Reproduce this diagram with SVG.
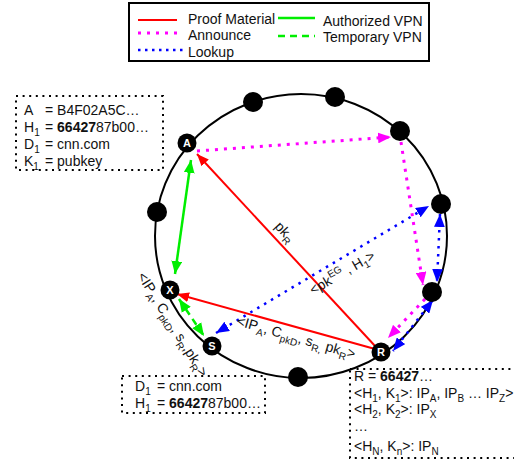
<svg xmlns="http://www.w3.org/2000/svg" width="514" height="464" viewBox="0 0 514 464">
  <style>
    text { font-family: "Liberation Sans", Arial, sans-serif; font-size: 14px; fill: #111; }
    .lbl { font-family: "Liberation Sans", Arial, sans-serif; font-size: 11px; font-weight: bold; fill: #fff; text-anchor: middle; }
    .sub { font-size: 10px; }
    .b { font-weight: bold; }
    .box { fill: none; stroke: #000; stroke-width: 2; stroke-dasharray: 2 4.6; }
    .ring { fill: none; stroke: #000; stroke-width: 2; }
    .node { fill: #000; }
    .proof { stroke: #ff0000; stroke-width: 2; fill: none; }
    .announce { stroke: #ff00ff; stroke-width: 3; stroke-dasharray: 3 6; fill: none; }
    .lookup { stroke: #0000ff; stroke-width: 2.5; stroke-dasharray: 2.5 5.5; fill: none; }
    .auth { stroke: #00ee00; stroke-width: 2.5; fill: none; }
    .temp { stroke: #00ee00; stroke-width: 2.5; stroke-dasharray: 7 5; fill: none; }
  </style>
  <defs>
    <marker id="ah-red" viewBox="0 0 12 10" refX="12" refY="5" markerWidth="12" markerHeight="10" markerUnits="userSpaceOnUse" orient="auto-start-reverse">
      <path d="M0,0 L12,5 L0,10 z" fill="#ff0000"/>
    </marker>
    <marker id="ah-mag" viewBox="0 0 12 10" refX="12" refY="5" markerWidth="13" markerHeight="11" markerUnits="userSpaceOnUse" orient="auto-start-reverse">
      <path d="M0,0 L12,5 L0,10 z" fill="#ff00ff"/>
    </marker>
    <marker id="ah-blue" viewBox="0 0 12 10" refX="12" refY="5" markerWidth="13" markerHeight="11" markerUnits="userSpaceOnUse" orient="auto-start-reverse">
      <path d="M0,0 L12,5 L0,10 z" fill="#0000ff"/>
    </marker>
    <marker id="ah-green" viewBox="0 0 12 10" refX="12" refY="5" markerWidth="13" markerHeight="11" markerUnits="userSpaceOnUse" orient="auto-start-reverse">
      <path d="M0,0 L12,5 L0,10 z" fill="#00ee00"/>
    </marker>
  </defs>

  <rect width="514" height="464" fill="#fff"/>

  <!-- legend -->
  <g id="legend">
    <rect x="129" y="3" width="300" height="58" fill="none" stroke="#000" stroke-width="2"/>
    <line x1="138" y1="20" x2="177" y2="20" class="proof"/>
    <text x="188" y="24">Proof Material</text>
    <line x1="138" y1="33" x2="180" y2="33" class="announce"/>
    <text x="188" y="40">Announce</text>
    <line x1="138" y1="50" x2="185" y2="50" stroke="#0000ff" stroke-width="2.5" stroke-dasharray="2.5 4.5"/>
    <text x="188" y="57">Lookup</text>
    <line x1="278" y1="18" x2="315" y2="18" class="auth"/>
    <text x="323" y="26">Authorized VPN</text>
    <line x1="278" y1="36" x2="315" y2="36" class="temp"/>
    <text x="323" y="42">Temporary VPN</text>
  </g>

  <!-- ring -->
  <ellipse cx="301" cy="236" rx="146" ry="142" class="ring"/>

  <!-- connectors -->
  <g id="connectors">
    <line x1="376" y1="347" x2="197" y2="154" class="proof" marker-end="url(#ah-red)"/>
    <line x1="375" y1="349" x2="177" y2="294" class="proof" marker-end="url(#ah-red)"/>
    <line x1="191" y1="160" x2="175" y2="274" class="auth" marker-start="url(#ah-green)" marker-end="url(#ah-green)"/>
    <line x1="179" y1="299" x2="204" y2="336" class="temp" marker-start="url(#ah-green)" marker-end="url(#ah-green)"/>
    <line x1="216" y1="333" x2="429" y2="206" class="lookup" marker-start="url(#ah-blue)" marker-end="url(#ah-blue)"/>
    <line x1="440" y1="214" x2="437" y2="282" class="lookup" marker-start="url(#ah-blue)" marker-end="url(#ah-blue)"/>
    <line x1="433" y1="300" x2="393" y2="351" class="lookup" marker-start="url(#ah-blue)" marker-end="url(#ah-blue)"/>
    <line x1="197" y1="151" x2="391" y2="137" class="announce" marker-end="url(#ah-mag)"/>
    <line x1="401" y1="142" x2="423" y2="285" class="announce" marker-end="url(#ah-mag)"/>
    <line x1="425" y1="299" x2="388" y2="338" class="announce" marker-end="url(#ah-mag)"/>
  </g>

  <!-- connector labels -->
  <g id="connector-labels">
    <text transform="translate(274,227) rotate(47)">pk<tspan class="sub" dy="4">R</tspan></text>
    <text transform="translate(236,325) rotate(16)" font-size="13.5">&lt;IP<tspan class="sub" dy="4">A</tspan><tspan dy="-4">, C</tspan><tspan class="sub" dy="4">pkD</tspan><tspan dy="-4">, s</tspan><tspan class="sub" dy="4">R,</tspan><tspan dy="-4"> pk</tspan><tspan class="sub" dy="4">R</tspan><tspan dy="-4">&gt;</tspan></text>
    <text transform="translate(137,276) rotate(58)" font-size="13.5">&lt;IP<tspan class="sub" dy="4">A</tspan><tspan dy="-4">, C</tspan><tspan class="sub" dy="4">pkD</tspan><tspan dy="-4">, s</tspan><tspan class="sub" dy="4">R</tspan><tspan dy="-4">,pk</tspan><tspan class="sub" dy="4">R</tspan><tspan dy="-4">&gt;</tspan></text>
    <text transform="translate(313,295) rotate(-30)">&lt;pk<tspan class="sub" dy="-6">EG</tspan><tspan dy="6"> , H</tspan><tspan class="sub" dy="4">1</tspan><tspan dy="-4">&gt;</tspan></text>
  </g>

  <!-- ring nodes -->
  <g id="n1"><circle cx="253" cy="102" r="10" class="node"/></g>
  <g id="n2"><circle cx="335" cy="97" r="10" class="node"/></g>
  <g id="n3"><circle cx="400" cy="131" r="10" class="node"/></g>
  <g id="n4"><circle cx="441" cy="204" r="10" class="node"/></g>
  <g id="n5"><circle cx="432" cy="292" r="10" class="node"/></g>
  <g id="n6"><circle cx="298" cy="377" r="10" class="node"/></g>
  <g id="n7"><circle cx="157" cy="212" r="10" class="node"/></g>
  <g id="node-A"><circle cx="187" cy="143" r="9.5" class="node"/><text x="187" y="147" class="lbl">A</text></g>
  <g id="node-X"><circle cx="170" cy="290" r="9.5" class="node"/><text x="170" y="294" class="lbl">X</text></g>
  <g id="node-S"><circle cx="212" cy="346" r="9.5" class="node"/><text x="212" y="350" class="lbl">S</text></g>
  <g id="node-R"><circle cx="381" cy="352" r="9.5" class="node"/><text x="381" y="356" class="lbl">R</text></g>

  <!-- info boxes -->
  <g id="box-A">
    <rect x="16" y="96" width="147" height="74" class="box"/>
    <text x="24" y="115">A</text><text x="45" y="115">= B4F02A5C…</text>
    <text x="24" y="132">H<tspan class="sub" dy="4">1</tspan></text><text x="45" y="132">= <tspan class="b">66427</tspan>87b00…</text>
    <text x="24" y="149">D<tspan class="sub" dy="4">1</tspan></text><text x="45" y="149">= cnn.com</text>
    <text x="24" y="166">K<tspan class="sub" dy="4">1</tspan></text><text x="45" y="166">= pubkey</text>
  </g>
  <g id="box-S">
    <rect x="122" y="376" width="143" height="37" class="box"/>
    <text x="135" y="391">D<tspan class="sub" dy="4">1</tspan></text><text x="157" y="391">= cnn.com</text>
    <text x="135" y="408">H<tspan class="sub" dy="4">1</tspan></text><text x="157" y="408">= <tspan class="b">66427</tspan>87b00…</text>
  </g>
  <g id="box-R">
    <rect x="350" y="369" width="180" height="89" class="box"/>
    <text x="354" y="381">R = <tspan class="b">66427</tspan>…</text>
    <text x="354" y="398">&lt;H<tspan class="sub" dy="4">1</tspan><tspan dy="-4">, K</tspan><tspan class="sub" dy="4">1</tspan><tspan dy="-4">&gt;: IP</tspan><tspan class="sub" dy="4">A</tspan><tspan dy="-4">, IP</tspan><tspan class="sub" dy="4">B</tspan><tspan dy="-4"> … IP</tspan><tspan class="sub" dy="4">Z</tspan><tspan dy="-4">&gt;</tspan></text>
    <text x="354" y="414">&lt;H<tspan class="sub" dy="4">2</tspan><tspan dy="-4">, K</tspan><tspan class="sub" dy="4">2</tspan><tspan dy="-4">&gt;: IP</tspan><tspan class="sub" dy="4">X</tspan></text>
    <text x="354" y="431">…</text>
    <text x="354" y="451">&lt;H<tspan class="sub" dy="4">N</tspan><tspan dy="-4">, K</tspan><tspan class="sub" dy="4">n</tspan><tspan dy="-4">&gt;: IP</tspan><tspan class="sub" dy="4">N</tspan></text>
  </g>
</svg>
